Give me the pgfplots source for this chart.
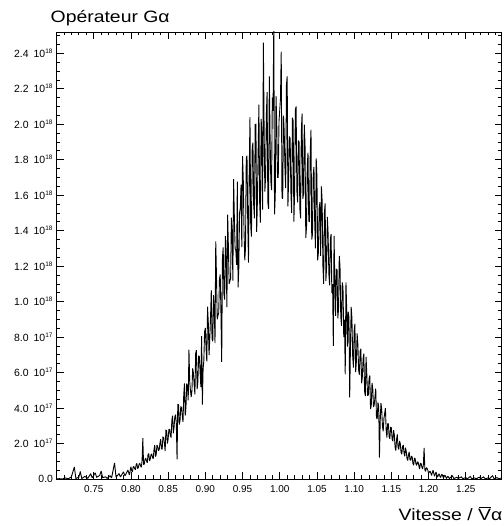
\documentclass[border=0pt]{standalone}
\usepackage{fontspec}
\setmainfont{Liberation Sans}
\usepackage{pgfplots}
\pgfplotsset{compat=1.18}
\usepackage{pgfplotstable}

\pgfplotstableread{
x y
0.700 0.000
0.704 0.002
0.708 0.000
0.712 0.006
0.716 0.001
0.720 0.012
0.724 0.068
0.726 0.003
0.730 0.010
0.732 0.042
0.734 0.002
0.738 0.015
0.742 0.004
0.746 0.030
0.748 0.006
0.752 0.035
0.754 0.010
0.758 0.020
0.760 0.045
0.762 0.008
0.766 0.012
0.768 0.004
0.772 0.018
0.774 0.006
0.778 0.090
0.780 0.010
0.784 0.030
0.786 0.012
0.790 0.040
0.792 0.018
0.796 0.050
0.798 0.022
0.800 0.069
0.801 0.048
0.802 0.040
0.803 0.067
0.804 0.070
0.805 0.059
0.806 0.052
0.807 0.080
0.808 0.088
0.809 0.059
0.810 0.064
0.811 0.084
0.812 0.088
0.813 0.074
0.814 0.066
0.815 0.102
0.816 0.230
0.817 0.081
0.818 0.085
0.819 0.112
0.820 0.116
0.821 0.102
0.822 0.091
0.823 0.139
0.824 0.142
0.825 0.102
0.826 0.113
0.827 0.137
0.828 0.140
0.829 0.122
0.830 0.114
0.831 0.165
0.832 0.192
0.833 0.126
0.834 0.138
0.835 0.192
0.836 0.183
0.837 0.160
0.838 0.165
0.839 0.201
0.840 0.224
0.841 0.172
0.842 0.167
0.843 0.236
0.844 0.234
0.845 0.204
0.846 0.158
0.847 0.275
0.848 0.273
0.849 0.200
0.850 0.225
0.851 0.278
0.852 0.280
0.853 0.244
0.854 0.234
0.855 0.331
0.856 0.357
0.857 0.258
0.858 0.293
0.859 0.351
0.860 0.363
0.861 0.315
0.862 0.110
0.863 0.422
0.864 0.418
0.865 0.307
0.866 0.330
0.867 0.407
0.868 0.405
0.869 0.358
0.870 0.321
0.871 0.476
0.872 0.539
0.873 0.357
0.874 0.406
0.875 0.539
0.876 0.518
0.877 0.443
0.878 0.730
0.879 0.549
0.880 0.500
0.881 0.462
0.882 0.498
0.883 0.624
0.884 0.598
0.885 0.531
0.886 0.477
0.887 0.707
0.888 0.727
0.889 0.507
0.890 0.549
0.891 0.695
0.892 0.689
0.893 0.602
0.894 0.518
0.895 0.806
0.896 0.420
0.897 0.620
0.898 0.668
0.899 0.830
0.900 0.852
0.901 0.736
0.902 0.663
0.903 0.971
0.904 0.881
0.905 0.698
0.906 0.794
0.907 0.911
0.908 1.065
0.909 0.790
0.910 0.776
0.911 1.036
0.912 0.968
0.913 0.766
0.914 1.340
0.915 1.140
0.916 0.900
0.917 0.923
0.918 0.937
0.919 1.126
0.920 1.153
0.921 0.935
0.922 0.660
0.923 1.245
0.924 1.306
0.925 1.043
0.926 1.012
0.927 1.371
0.928 1.237
0.929 0.969
0.930 1.490
0.931 1.308
0.932 1.100
0.933 1.117
0.934 1.130
0.935 1.474
0.936 1.401
0.937 1.118
0.938 1.690
0.939 1.475
0.940 1.300
0.941 1.290
0.942 1.207
0.943 1.677
0.944 1.080
0.945 1.188
0.946 1.500
0.947 1.528
0.948 1.659
0.949 1.307
0.950 1.820
0.951 1.689
0.952 1.400
0.953 1.232
0.954 1.303
0.955 1.808
0.956 1.823
0.957 1.444
0.958 1.220
0.959 1.737
0.960 2.040
0.961 1.422
0.962 1.367
0.963 1.867
0.964 1.896
0.965 1.543
0.966 1.469
0.967 1.998
0.968 2.000
0.969 1.393
0.970 1.571
0.971 1.854
0.972 2.110
0.973 1.560
0.974 1.446
0.975 2.030
0.976 1.950
0.977 1.518
0.978 2.460
0.979 1.974
0.980 1.620
0.981 1.701
0.982 2.050
0.983 2.181
0.984 1.560
0.985 1.523
0.986 2.270
0.987 1.931
0.988 1.680
0.989 1.629
0.990 2.150
0.991 2.076
0.992 2.560
0.993 1.492
0.994 1.600
0.995 2.159
0.996 2.000
0.997 1.700
0.998 1.700
0.999 2.016
1.000 2.080
1.001 2.145
1.002 2.410
1.003 1.589
1.004 1.580
1.005 2.049
1.006 1.960
1.007 1.750
1.008 1.640
1.009 2.223
1.010 2.270
1.011 1.537
1.012 1.700
1.013 1.931
1.014 1.920
1.015 1.614
1.016 1.500
1.017 2.037
1.018 2.020
1.019 1.451
1.020 1.620
1.021 2.081
1.022 2.100
1.023 1.624
1.024 1.560
1.025 1.908
1.026 1.900
1.027 1.525
1.028 1.470
1.029 1.957
1.030 2.060
1.031 1.580
1.032 1.610
1.033 1.998
1.034 1.880
1.035 1.360
1.036 1.420
1.037 1.769
1.038 1.840
1.039 1.454
1.040 1.450
1.041 1.848
1.042 1.970
1.043 1.350
1.044 1.380
1.045 1.716
1.046 1.760
1.047 1.444
1.048 1.300
1.049 1.808
1.050 1.700
1.051 1.233
1.052 1.280
1.053 1.528
1.054 1.560
1.055 1.258
1.056 1.650
1.057 1.566
1.058 1.200
1.059 1.100
1.060 1.500
1.061 1.554
1.062 1.117
1.063 1.196
1.064 1.478
1.065 1.385
1.066 1.156
1.067 1.092
1.068 1.349
1.069 1.381
1.070 1.050
1.071 1.099
1.072 0.750
1.073 1.371
1.074 1.120
1.075 0.920
1.076 1.184
1.077 1.179
1.078 0.905
1.079 0.956
1.080 1.258
1.081 1.198
1.082 0.916
1.083 0.863
1.084 1.108
1.085 1.082
1.086 0.800
1.087 0.898
1.088 0.590
1.089 1.109
1.090 0.950
1.091 0.746
1.092 0.943
1.093 0.911
1.094 0.460
1.095 0.739
1.096 0.970
1.097 0.907
1.098 0.694
1.099 0.628
1.100 0.837
1.101 0.875
1.102 0.602
1.103 0.663
1.104 0.821
1.105 0.757
1.106 0.613
1.107 0.588
1.108 0.720
1.109 0.734
1.110 0.540
1.111 0.575
1.112 0.679
1.113 0.707
1.114 0.495
1.115 0.468
1.116 0.688
1.117 0.591
1.118 0.472
1.119 0.473
1.120 0.565
1.121 0.584
1.122 0.394
1.123 0.415
1.124 0.542
1.125 0.512
1.126 0.406
1.127 0.419
1.128 0.465
1.129 0.510
1.130 0.346
1.131 0.338
1.132 0.432
1.133 0.407
1.134 0.120
1.135 0.326
1.136 0.428
1.137 0.394
1.138 0.299
1.139 0.269
1.140 0.340
1.141 0.370
1.142 0.400
1.143 0.276
1.144 0.234
1.145 0.311
1.146 0.311
1.147 0.238
1.148 0.227
1.149 0.293
1.150 0.288
1.151 0.226
1.152 0.213
1.153 0.275
1.154 0.248
1.155 0.180
1.156 0.160
1.157 0.224
1.158 0.251
1.159 0.176
1.160 0.167
1.161 0.214
1.162 0.200
1.163 0.150
1.164 0.139
1.165 0.183
1.166 0.192
1.167 0.147
1.168 0.128
1.169 0.177
1.170 0.156
1.171 0.116
1.172 0.104
1.173 0.137
1.174 0.153
1.175 0.108
1.176 0.106
1.177 0.129
1.178 0.124
1.179 0.087
1.180 0.078
1.181 0.118
1.182 0.114
1.183 0.086
1.184 0.077
1.185 0.096
1.186 0.094
1.187 0.073
1.188 0.056
1.189 0.088
1.190 0.086
1.191 0.067
1.192 0.056
1.193 0.080
1.194 0.176
1.195 0.052
1.196 0.043
1.197 0.064
1.198 0.060
1.199 0.050
1.200 0.032
1.202 0.045
1.204 0.020
1.206 0.050
1.208 0.015
1.210 0.040
1.212 0.010
1.214 0.030
1.216 0.008
1.218 0.028
1.220 0.006
1.222 0.022
1.224 0.004
1.226 0.015
1.228 0.003
1.232 0.018
1.234 0.002
1.238 0.010
1.240 0.003
1.244 0.012
1.246 0.002
1.250 0.008
1.252 0.001
1.256 0.014
1.258 0.002
1.262 0.006
1.264 0.001
1.268 0.010
1.270 0.002
1.274 0.012
1.276 0.001
1.280 0.006
1.282 0.002
1.286 0.018
1.288 0.001
1.292 0.008
1.294 0.002
1.298 0.005
}\datatable

\newcommand{\tl}[2]{#1\hspace{5bp}10\textsuperscript{\fontsize{6.5}{6.5}\selectfont #2}}
\newcommand{\Vbar}{\ooalign{V\cr\hidewidth\rule[0.70em]{0.62em}{0.065em}\hidewidth\cr}}

\begin{document}
\begin{tikzpicture}
\begin{axis}[
  scale only axis,
  width=445bp, height=447bp,
  xmin=0.70, xmax=1.298,
  ymin=0, ymax=2.52,
  axis line style={line width=0.7bp},
  xtick={0.75,0.80,0.85,0.90,0.95,1.00,1.05,1.10,1.15,1.20,1.25},
  xticklabels={0.75,0.80,0.85,0.90,0.95,1.00,1.05,1.10,1.15,1.20,1.25},
  minor xtick={0.71,0.72,0.73,0.74,0.76,0.77,0.78,0.79,0.81,0.82,0.83,0.84,0.86,0.87,0.88,0.89,0.91,0.92,0.93,0.94,0.96,0.97,0.98,0.99,1.01,1.02,1.03,1.04,1.06,1.07,1.08,1.09,1.11,1.12,1.13,1.14,1.16,1.17,1.18,1.19,1.21,1.22,1.23,1.24,1.26,1.27,1.28,1.29},
  ytick={0,0.2,0.4,0.6,0.8,1.0,1.2,1.4,1.6,1.8,2.0,2.2,2.4},
  yticklabels={0.0,\tl{2.0}{17},\tl{4.0}{17},\tl{6.0}{17},\tl{8.0}{17},\tl{1.0}{18},\tl{1.2}{18},\tl{1.4}{18},\tl{1.6}{18},\tl{1.8}{18},\tl{2.0}{18},\tl{2.2}{18},\tl{2.4}{18}},
  minor ytick={0.05,0.10,0.15,0.25,0.30,0.35,0.45,0.50,0.55,0.65,0.70,0.75,0.85,0.90,0.95,1.05,1.10,1.15,1.25,1.30,1.35,1.45,1.50,1.55,1.65,1.70,1.75,1.85,1.90,1.95,2.05,2.10,2.15,2.25,2.30,2.35,2.45,2.50},
  xtick pos=both, ytick pos=both,
  xticklabel pos=lower, yticklabel pos=left,
  tick align=inside,
  major tick length=7bp, minor tick length=3.5bp,
  tick style={line width=0.7bp, black},
  xticklabel style={font=\fontsize{10}{10}\selectfont, yshift=-3bp},
  yticklabel style={font=\fontsize{10.5}{10.5}\selectfont},
  clip=true,
]
\addplot[black, line width=0.9bp, line join=miter, miter limit=2] table[x=x, y=y] {\datatable};
\end{axis}
\node[anchor=base west, inner sep=0pt] at ([xshift=-6bp, yshift=9bp]current axis.north west)
  {\fontsize{16.5}{16.5}\selectfont\scalebox{1.18}[1]{Opérateur Gα}};
\node[anchor=base east, inner sep=0pt] at ([xshift=1bp, yshift=-41bp]current axis.south east)
  {\fontsize{16.5}{16.5}\selectfont\scalebox{1.18}[1]{Vitesse / \Vbar α}};
\pgfresetboundingbox
\path[use as bounding box] ([xshift=-56.5bp, yshift=-47bp]current axis.south west) rectangle ++(504bp,526bp);
\end{tikzpicture}
\end{document}
